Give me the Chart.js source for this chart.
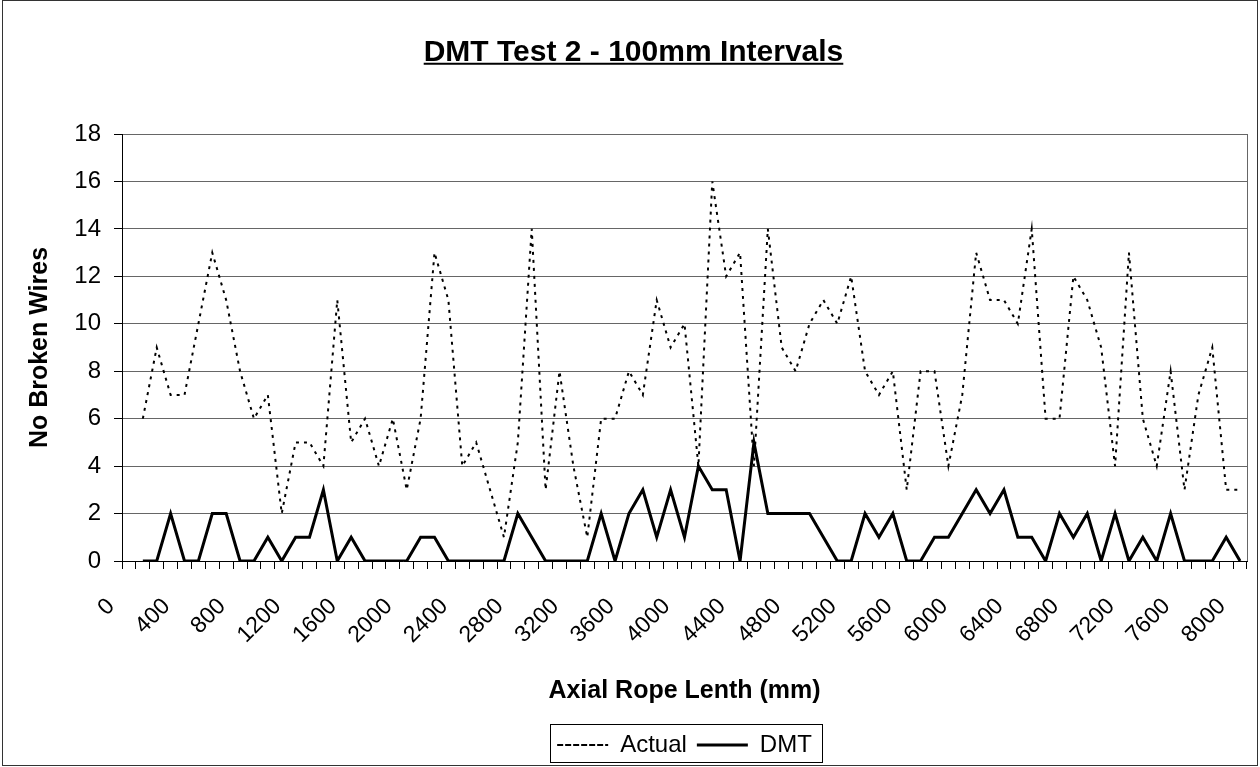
<!DOCTYPE html>
<html>
<head>
<meta charset="utf-8">
<title>DMT Test 2 - 100mm Intervals</title>
<script src="https://cdn.jsdelivr.net/npm/chart.js@4.4.1/dist/chart.umd.min.js"></script>
<style>
  html, body { margin: 0; padding: 0; background: #fff; }
  canvas { display: block; }
</style>
</head>
<body>
<canvas id="chart" width="1260" height="767"></canvas>
<script>
// Axial positions (mm), one category every 100mm
const lengths = [
  '0', '100', '200', '300', '400', '500', '600', '700', '800', '900',
  '1000', '1100', '1200', '1300', '1400', '1500', '1600', '1700', '1800', '1900',
  '2000', '2100', '2200', '2300', '2400', '2500', '2600', '2700', '2800', '2900',
  '3000', '3100', '3200', '3300', '3400', '3500', '3600', '3700', '3800', '3900',
  '4000', '4100', '4200', '4300', '4400', '4500', '4600', '4700', '4800', '4900',
  '5000', '5100', '5200', '5300', '5400', '5500', '5600', '5700', '5800', '5900',
  '6000', '6100', '6200', '6300', '6400', '6500', '6600', '6700', '6800', '6900',
  '7000', '7100', '7200', '7300', '7400', '7500', '7600', '7700', '7800', '7900',
  '8000'
];

// only every 4th category gets a label
const shownLengths = [
  '0', '400', '800', '1200', '1600', '2000', '2400', '2800', '3200', '3600', '4000',
  '4400', '4800', '5200', '5600', '6000', '6400', '6800', '7200', '7600', '8000'
];

const actual = [null,
  6, 9, 7, 7, 10, 13, 11, 8, 6, 7,
  2, 5, 5, 4, 11, 5, 6, 4, 6, 3,
  6, 13, 11, 4, 5, 3, 1, 5, 14, 3,
  8, 4, 1, 6, 6, 8, 7, 11, 9, 10,
  4, 16, 12, 13, 4, 14, 9, 8, 10, 11,
  10, 12, 8, 7, 8, 3, 8, 8, 4, 7,
  13, 11, 11, 10, 14, 6, 6, 12, 11, 9,
  4, 13, 6, 4, 8, 3, 7, 9, 3, 3
];

const dmt = [null,
  0, 0, 2, 0, 0, 2, 2, 0, 0, 1,
  0, 1, 1, 3, 0, 1, 0, 0, 0, 0,
  1, 1, 0, 0, 0, 0, 0, 2, 1, 0,
  0, 0, 0, 2, 0, 2, 3, 1, 3, 1,
  4, 3, 3, 0, 5, 2, 2, 2, 2, 1,
  0, 0, 2, 1, 2, 0, 0, 1, 1, 2,
  3, 2, 3, 1, 1, 0, 2, 1, 2, 0,
  2, 0, 1, 0, 2, 0, 0, 0, 1, 0
];

const yMin = 0;
const yMax = 18;
const yStep = 2;

const FONT = 'Arial, "Liberation Sans", sans-serif';
const titlePad = { top: 35, bottom: 63 };
const LEGEND_H = 44;

Chart.defaults.font.family = FONT;
Chart.defaults.color = '#000';

// outer frame, title underline, legend box, plot right edge
const framePlugin = {
  id: 'frame',
  afterDraw(chart) {
    const ctx = chart.ctx;
    const area = chart.chartArea;
    ctx.save();

    ctx.strokeStyle = '#666';
    ctx.lineWidth = 1;
    ctx.beginPath();
    ctx.moveTo(Math.round(area.right) + 0.5, area.top);
    ctx.lineTo(Math.round(area.right) + 0.5, area.bottom);
    ctx.stroke();

    const t = chart.titleBlock;
    const tOpts = chart.options.plugins.title;
    ctx.font = 'bold ' + tOpts.font.size + 'px ' + FONT;
    const w = ctx.measureText(tOpts.text).width;
    const cx = (t.left + t.right) / 2;
    const by = t.top + titlePad.top + tOpts.font.size * 1.2 / 2 + tOpts.font.size * 0.36;
    ctx.strokeStyle = '#000';
    ctx.lineWidth = 2;
    ctx.beginPath();
    ctx.moveTo(cx - w / 2, by);
    ctx.lineTo(cx + w / 2, by);
    ctx.stroke();

    const boxes = chart.legend.legendHitBoxes;
    if (boxes && boxes.length) {
      const first = boxes[0];
      const last = boxes[boxes.length - 1];
      const cy = first.top + first.height / 2;
      const left = Math.round(first.left - 7) + 0.5;
      const right = Math.round(last.left + last.width + 10) + 0.5;
      ctx.lineWidth = 1;
      ctx.strokeStyle = '#000';
      ctx.strokeRect(left, Math.round(cy - 21) + 0.5, right - left, 38);
    }

    ctx.strokeStyle = '#333';
    ctx.lineWidth = 1;
    ctx.strokeRect(2.5, 0.5, 1255, 765);
    ctx.restore();
  }
};

new Chart(document.getElementById('chart'), {
  type: 'line',
  data: {
    labels: lengths,
    datasets: [
      {
        label: 'Actual',
        data: actual,
        borderColor: '#000',
        backgroundColor: 'rgba(0,0,0,0)',
        borderWidth: 2,
        borderDash: [3, 5],
        pointRadius: 0,
        tension: 0,
        fill: false
      },
      {
        label: 'DMT',
        data: dmt,
        borderColor: '#000',
        backgroundColor: 'rgba(0,0,0,0)',
        borderWidth: 3,
        pointRadius: 0,
        tension: 0,
        fill: false
      }
    ]
  },
  options: {
    responsive: false,
    animation: false,
    layout: { padding: { left: 20, right: 13, top: 0, bottom: 0 } },
    plugins: {
      tooltip: { enabled: false },
      title: {
        display: true,
        text: 'DMT Test 2 - 100mm Intervals',
        color: '#000',
        font: { size: 30, weight: 'bold' },
        padding: titlePad
      },
      legend: {
        position: 'bottom',
        fullSize: false,
        labels: {
          boxWidth: 51,
          boxHeight: 0,
          color: '#000',
          font: { size: 24 },
          padding: 10
        }
      }
    },
    scales: {
      x: {
        offset: true,
        afterFit: s => {
          s.height = 767 - LEGEND_H - 561;
          s.paddingRight = 0;
        },
        grid: {
          display: true,
          drawOnChartArea: false,
          offset: true,
          color: '#000',
          tickLength: 8
        },
        border: { display: true, color: '#000', width: 1 },
        ticks: {
          autoSkip: false,
          minRotation: 45,
          maxRotation: 45,
          padding: 24,
          labelOffset: -18,
          color: '#000',
          font: { size: 23 },
          callback: function (value, index) {
            const lbl = lengths[index];
            return shownLengths.includes(lbl) ? lbl : '';
          }
        },
        title: {
          display: true,
          text: 'Axial Rope Lenth (mm)',
          color: '#000',
          font: { size: 25, weight: 'bold' },
          padding: { top: 0, bottom: 17 }
        }
      },
      y: {
        min: yMin,
        max: yMax,
        afterFit: s => { s.width = 102; },
        grid: {
          color: '#666',
          tickColor: '#000',
          tickLength: 8
        },
        border: { display: true, color: '#000', width: 1 },
        ticks: {
          stepSize: yStep,
          padding: 13,
          color: '#000',
          font: { size: 24 }
        },
        title: {
          display: true,
          text: 'No Broken Wires',
          color: '#000',
          font: { size: 25, weight: 'bold' },
          padding: { top: 5, bottom: 0 }
        }
      }
    }
  },
  plugins: [framePlugin]
});
</script>
</body>
</html>
